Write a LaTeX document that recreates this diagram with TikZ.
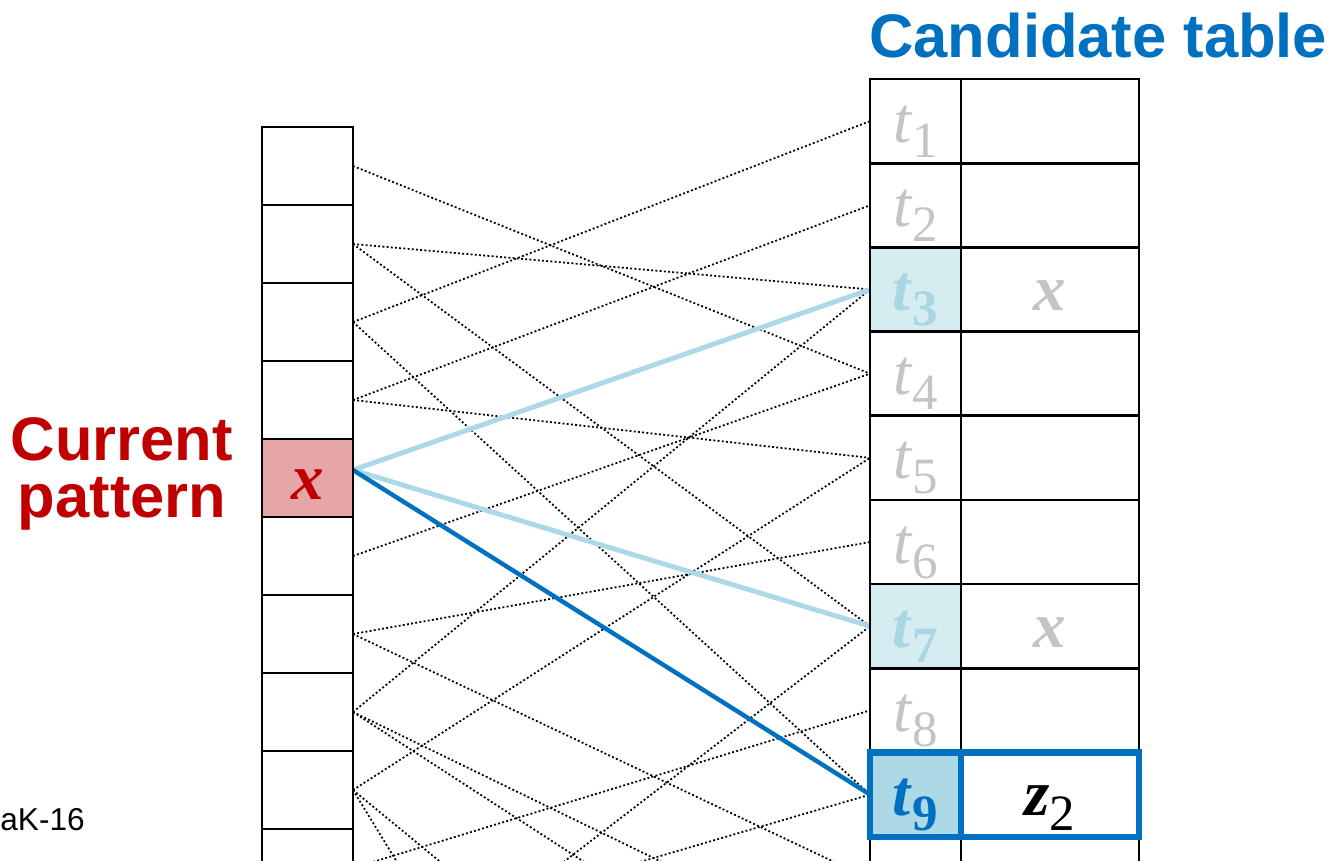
\documentclass[tikz,border=0pt]{standalone}
\usepackage{fontspec}
\setmainfont{Liberation Serif}
\newfontfamily\headfont{Liberation Sans}
\usetikzlibrary{
  positioning,
  backgrounds
}
\definecolor{PatRed}{HTML}{C00000}
\definecolor{PatFill}{HTML}{E6A6A8}
\definecolor{HitBlue}{HTML}{0070C0}
\definecolor{HitLight}{HTML}{ADD8E6}
\definecolor{HitPale}{HTML}{D5ECF1}
\definecolor{HitText}{HTML}{A8D6E2}
\definecolor{SlotGray}{HTML}{C4C4C4}
% slot label t_i, plain and bold
\newcommand\tslot[1]{\textit{t}\raisebox{-0.3cm}{\fontsize{29}{29}\selectfont #1}}
\newcommand\tslotb[1]{\textbf{\textit{t}}\raisebox{-0.3cm}{\fontsize{29}{29}\selectfont\bfseries #1}}
\tikzset{
  % Table cell: white box, black frame
  cell/.style={
    rectangle, draw=black, line width=1.5pt, fill=white,
    inner sep=0pt, outer sep=0pt,
    text height=0.84cm, text depth=0pt,
    font=\fontsize{37}{40}\selectfont
  },
  % Pattern column cell
  lcell/.style={cell, minimum width=1.82cm, minimum height=1.56cm},
  % Candidate table: slot cell and value cell
  tcell/.style={cell, minimum width=1.82cm, minimum height=1.684cm},
  vcell/.style={cell, minimum width=3.56cm, minimum height=1.684cm},
  % Hash link
  dots/.style={line width=1pt, dash pattern=on 1.1pt off 1.3pt},
  % Match link
  match/.style={line width=2.8pt, color=#1},
  % Heading text
  head/.style={
    font=\headfont\bfseries\fontsize{35}{32}\selectfont,
    text=#1, align=center, inner sep=0pt
  }
}

\begin{document}
\begin{tikzpicture}[x=0.02cm, y=-0.02cm]
  \useasboundingbox (0,0) rectangle (1338,860);
  \clip (0,0) rectangle (1338,860);

  % Current pattern column
  \foreach \i in {1,2,3,4,6,7,8,9,10,11,12}
    \node[lcell] (L\i) at (307.5,{88+78*\i}) {};
  \node[lcell, fill=PatFill, text=PatRed] (L5) at (307.5,478) {\textbf{\textit{x}}};

  % Candidate table, nine visible rows
  \node[tcell, text=SlotGray] (T1) at (915.5,121.1) {\tslot{1}};
  \node[tcell, text=SlotGray, below=0pt of T1] (T2) {\tslot{2}};
  \node[tcell, fill=HitPale, text=HitText, below=0pt of T2] (T3) {\tslotb{3}};
  \node[tcell, text=SlotGray, below=0pt of T3] (T4) {\tslot{4}};
  \node[tcell, text=SlotGray, below=0pt of T4] (T5) {\tslot{5}};
  \node[tcell, text=SlotGray, below=0pt of T5] (T6) {\tslot{6}};
  \node[tcell, fill=HitPale, text=HitText, below=0pt of T6] (T7) {\tslotb{7}};
  \node[tcell, text=SlotGray, below=0pt of T7] (T8) {\tslot{8}};
  \foreach \i in {10,...,19}
    \node[tcell] (T\i) at (915.5,{36.9+84.2*\i}) {};
  \foreach \i in {1,...,8,10,11,...,19}
    \node[vcell, right=0pt of T\i] (V\i) {};
  \node[vcell, text=SlotGray] at (V3) {\textbf{\textit{x}}};
  \node[vcell, text=SlotGray] at (V7) {\textbf{\textit{x}}};

  % Hit row
  \node[tcell, fill=HitLight, text=HitBlue, draw=HitBlue, line width=3.6pt, below=0pt of T8] (T9) {\tslotb{9}};
  \node[vcell, draw=HitBlue, line width=3.6pt, right=0pt of T9] (V9)
    {\textbf{\textit{z}}\raisebox{-0.3cm}{\fontsize{29}{29}\selectfont 2}};

  \begin{scope}[on background layer]
    \foreach \a/\b in {1/4,2/3,2/7,3/1,3/9,4/2,4/5,6/4,7/6,7/10,8/3,8/11,8/12,9/5,9/14,9/19,10/8,11/9,12/7}
      \draw[dots] (L\a.east) -- (T\b.west);
    \draw[match=HitLight] ([yshift=0.16cm]L5.east) -- (T3.west);
    \draw[match=HitLight] ([yshift=0.16cm]L5.east) -- (T7.west);
    \draw[match=HitBlue, line width=2.5pt] ([yshift=0.16cm]L5.east) -- (T9.west);
  \end{scope}

  % Headings
  \node[head=HitBlue, anchor=base west] (ctab) at (869,57) {Candidate table};
  \node[head=PatRed] (cpat) at (122,474) {Current\\pattern};
  \node[font=\headfont\fontsize{18}{20}\selectfont, anchor=base west, inner sep=0pt] (tag) at (0,830) {aK-16};
\end{tikzpicture}
\end{document}
